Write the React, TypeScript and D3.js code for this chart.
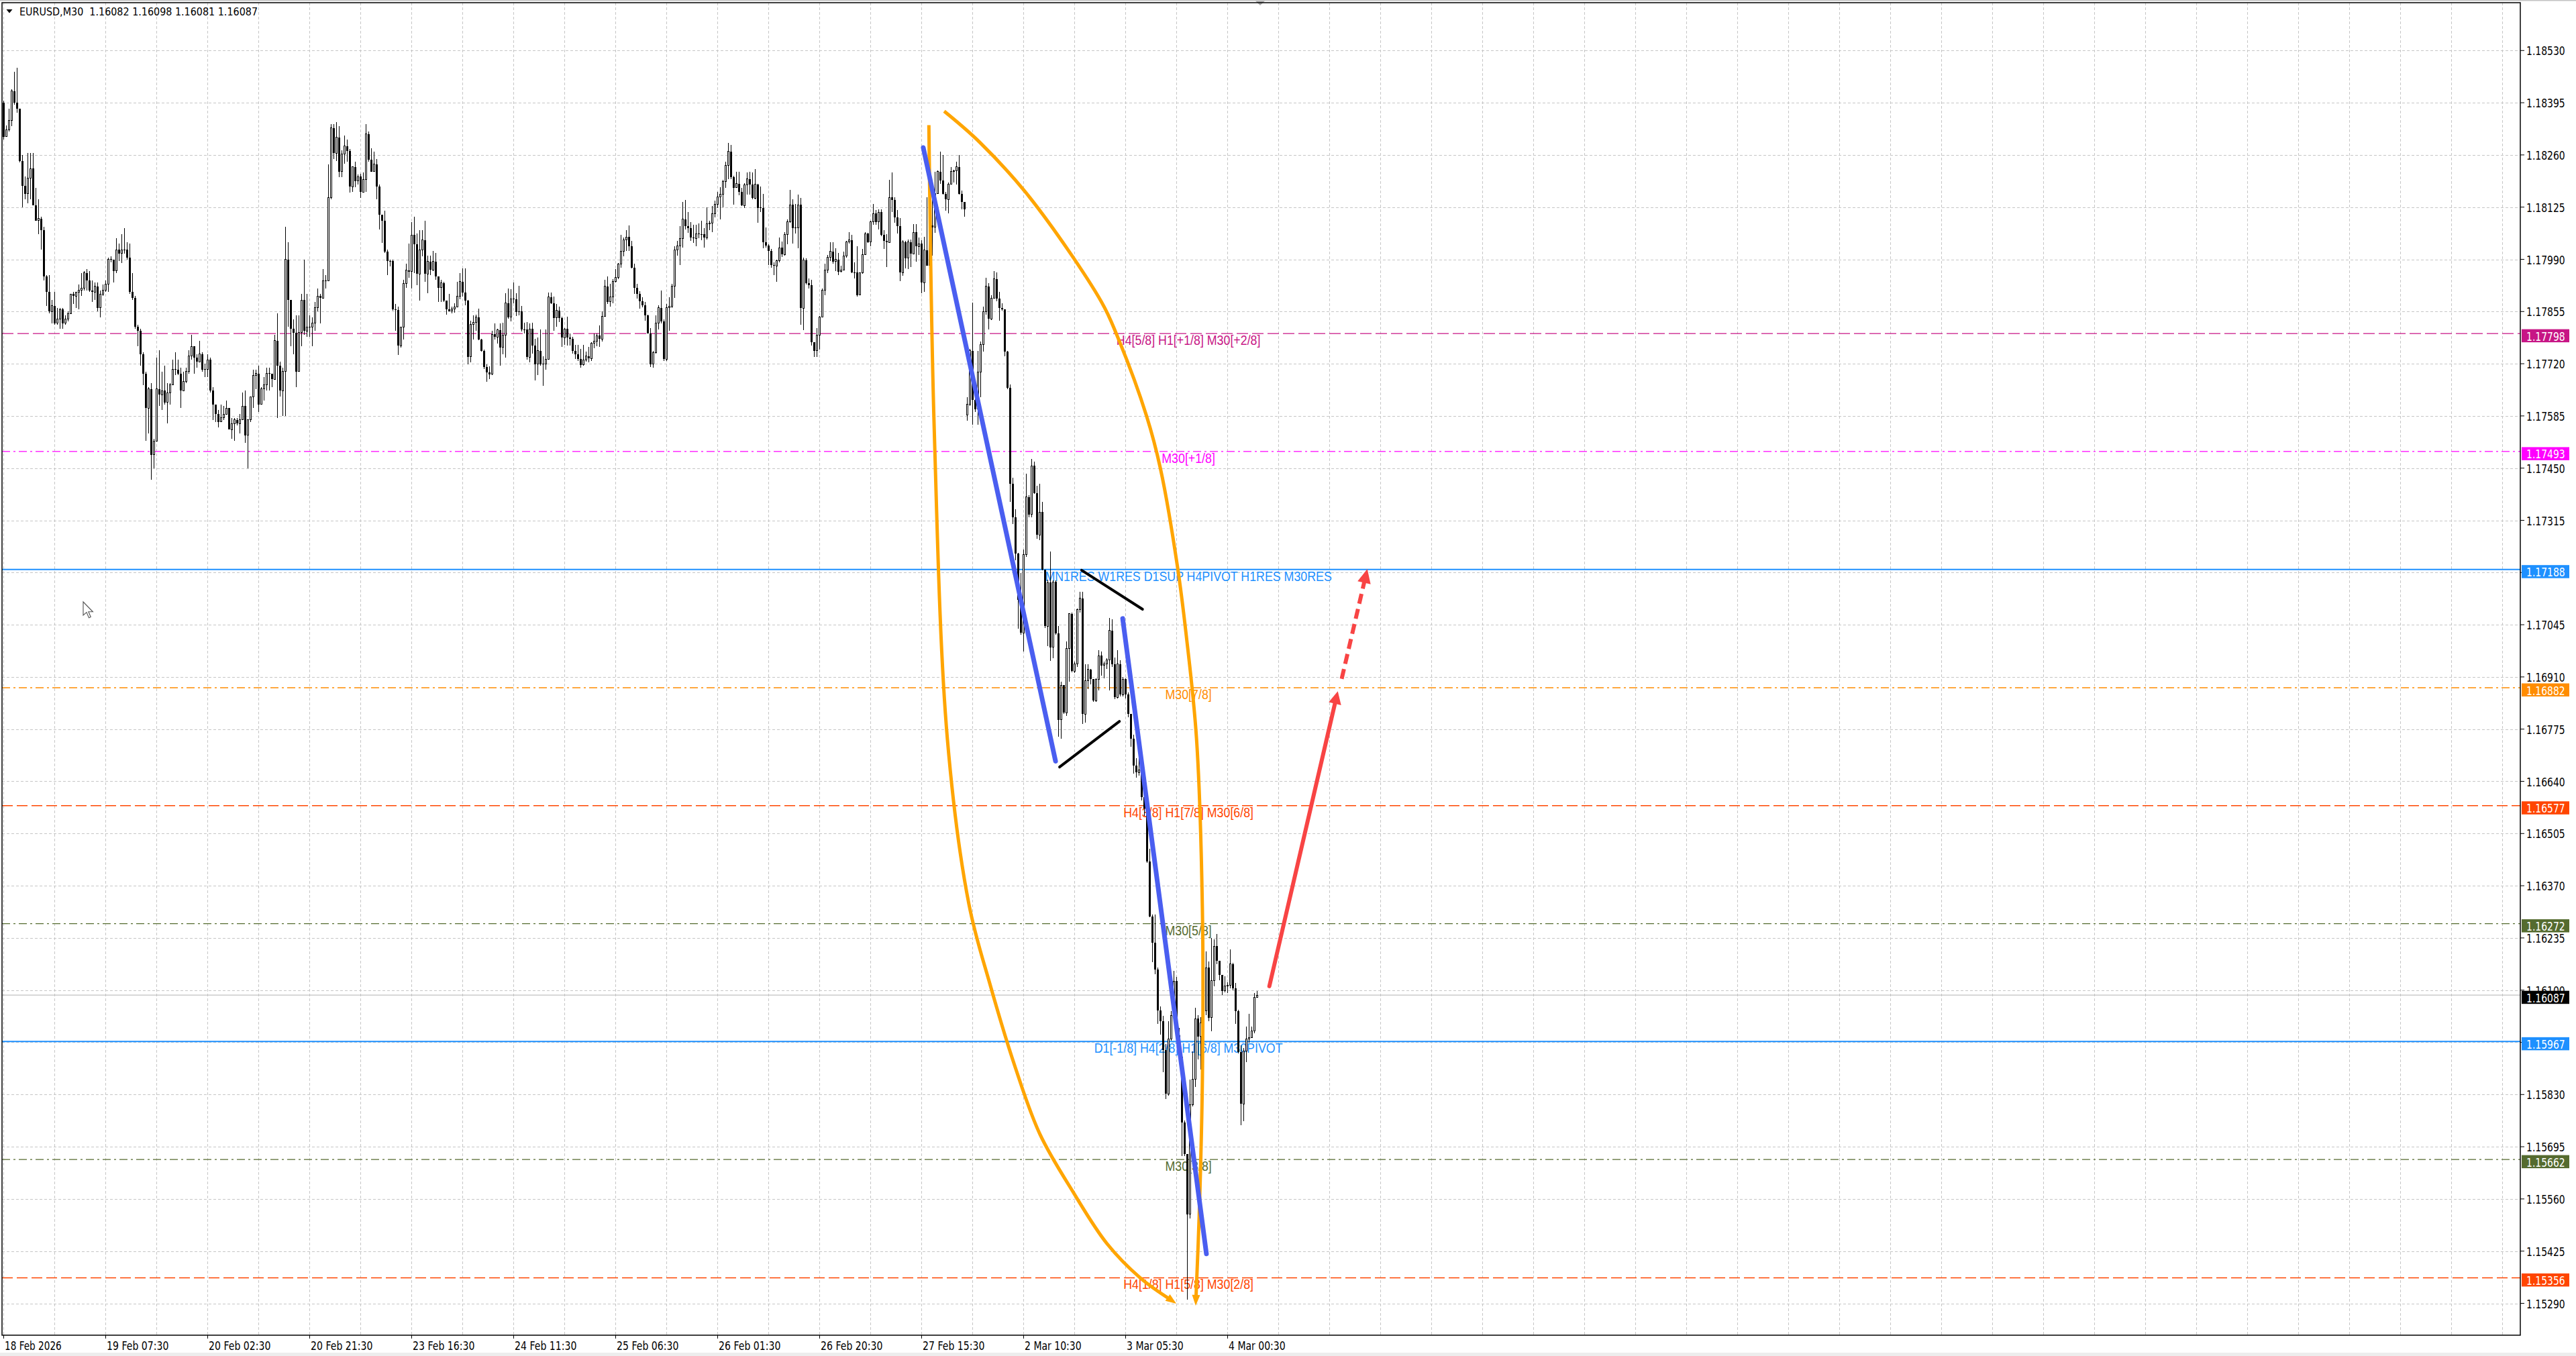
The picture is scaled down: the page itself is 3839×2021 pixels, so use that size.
import { useMemo } from "react"
import * as d3 from "d3"

// One tuple per M30 bar: [close, high, low], in pips above PIP_BASE. Open = previous close.
type Bar = [number, number, number]
type Pt = [number, number] // [bar index, price]

const PIP_BASE = 1.15

const feb18: Bar[] = [
  [330.7, 340, 330], [332.5, 333.6, 330.7], [335, 338, 332], [342.5, 343, 333.5], [339.5, 347.5, 339], [338, 348.5, 337],
  [324.5, 337, 324], [318, 326, 312.5], [316, 320.5, 314.5], [320, 326.5, 313.5], [322.5, 326.5, 314.5], [313, 326.5, 313],
  [309, 317.5, 309], [309.5, 314.5, 305.5], [306.5, 310, 301.5], [294.5, 307.5, 293.5], [290.5, 295, 287], [285.5, 295, 285],
  [287, 288.5, 282.5], [282.5, 290.5, 282], [283.5, 286.5, 282], [286, 286.5, 281], [282.5, 286.5, 281],
]
const feb19: Bar[] = [
  [283.5, 284.5, 282], [285, 285.5, 283], [290, 290, 285], [289.5, 290.5, 287.5], [290.5, 290.5, 286.5], [291, 292.5, 286],
  [291.5, 295.5, 289.5], [295.5, 296, 291], [293.5, 296.5, 291], [291, 296, 290.5], [290.5, 293.5, 288], [292, 293, 288.5],
  [286.5, 293, 285.5], [290, 291, 284], [291, 292.5, 289.5], [292.5, 293.5, 290.5], [299, 299.5, 290.5], [299, 299.8, 298.3],
  [296, 299, 293], [301.5, 304.5, 295.5], [300.5, 303, 298.5], [301.5, 305.5, 298], [301.5, 307, 300.5], [299.5, 303.5, 299],
  [290.5, 303, 290], [289, 295.5, 288.5], [281.5, 289.5, 281], [280.5, 282, 276.5], [274.5, 281, 271.5], [269.5, 275, 266.5],
  [260.5, 270, 252], [265.5, 266, 254], [248.5, 267, 242], [252, 252.5, 245], [265.5, 273.5, 252], [264, 275.5, 261],
  [265, 270, 260], [262, 271.5, 261.5], [264.5, 267, 256.5], [266.5, 267, 261.5], [270.5, 273, 266.5], [270.5, 275, 269],
  [269.5, 273, 269], [265, 271, 260.5], [267.5, 270, 265], [270, 271, 267], [274, 275.5, 269.5], [276.5, 279.5, 273],
]
const feb20: Bar[] = [
  [273.5, 276.5, 269.5], [272.5, 274.5, 271], [274.5, 278, 272.5], [270.5, 275, 270], [270.5, 272, 268.5], [273, 274.5, 268.5],
  [265, 273.5, 264.5], [261.5, 266, 257.5], [259, 261.5, 257], [257, 260, 255.5], [258, 261.5, 257], [259, 261, 257.5],
  [260.5, 262.5, 259], [255, 260.5, 255], [256.5, 258, 252.5], [257.5, 258, 252], [256.5, 258, 256], [257.5, 259, 254],
  [261, 264.5, 257.5], [253.5, 265, 251.5], [257.5, 257.5, 245], [263.5, 263.5, 257], [269, 270.5, 260.5], [269.5, 270.5, 265.5],
  [261.5, 271.5, 259.5], [265.5, 266, 261.5], [266.5, 268.5, 262.5], [269.5, 271, 265], [269.5, 271, 265], [268, 269.5, 266],
  [278, 279.5, 268], [271.5, 285, 258], [265, 272.5, 263.5], [270, 271, 258.5], [299, 307.5, 258.5], [288.5, 303.5, 281.5],
  [281, 288.5, 276.5], [280, 283.5, 274.5], [270, 284.5, 266], [280, 284.5, 270], [288.5, 290, 276.5], [280.5, 299, 279.5],
  [281.5, 290, 279], [281.5, 284.5, 279], [282.5, 284, 276.5], [286.5, 288, 280.5], [289.5, 291.5, 285.5], [289, 290, 282.5],
]
const feb23: Bar[] = [
  [293.5, 296.5, 289], [293.5, 295, 291.5], [315, 323.5, 293.5], [333, 334, 314.5], [326.5, 334, 325], [330.5, 334.5, 324.5],
  [321.7, 333.5, 320.3], [326.3, 327.2, 320.3], [328.3, 331, 323.7], [327, 330, 324.3], [317.8, 327.5, 316.2], [322.9, 323, 316.5],
  [319.3, 324.3, 317.7], [320.4, 320.9, 318.3], [316.4, 321.2, 314.8], [319.6, 321.4, 316.2], [331.4, 334, 316.4], [324.8, 332, 324.3],
  [321.7, 327.8, 321.7], [323.6, 326.9, 321.7], [317.9, 324.9, 314.5], [310.6, 318.3, 306.7], [309, 310.6, 303.3], [301, 311.6, 300.7],
  [298.6, 301.5, 294.9], [298.5, 299, 297.2], [286, 299, 285.8], [285.9, 287.4, 280.5], [276.7, 286.8, 274.2], [281.5, 281.6, 276.1],
  [292.8, 293.7, 278.2], [296.2, 297.8, 291.7], [295.8, 303.1, 294.2], [305.3, 308.7, 291.5], [302.9, 310, 295.5], [295.2, 305.6, 292.3],
  [301.5, 306.6, 288.3], [304, 306.6, 299.8], [295.2, 309, 293.2], [298.4, 300, 290.3], [296.3, 300, 295], [298.4, 301.2, 296],
  [294.6, 300.7, 293.7], [291.7, 294.6, 287.9], [292.9, 293.7, 288], [288.4, 293.2, 288], [286, 287.9, 284.6], [285.6, 290.1, 285.5],
]
const feb24: Bar[] = [
  [286.2, 286.7, 285], [286.7, 287.6, 285.2], [289.4, 293.2, 287.2], [293.2, 295.5, 288.6], [290.4, 296.7, 289.4], [288.4, 296.7, 287.2],
  [273.8, 288.5, 271.8], [282.1, 283.1, 272.4], [282.7, 284.5, 278.2], [284, 284.6, 280.5], [278.2, 286.2, 278.1], [275.4, 278.4, 275.2],
  [271.2, 275.6, 270.7], [269.7, 271.9, 267.4], [269.3, 271.3, 268], [279.6, 280.5, 269], [278.9, 282.4, 278.3], [280.7, 281, 277.2],
  [276.2, 282.4, 271.5], [279.4, 282.6, 274.5], [287.7, 290.3, 273.5], [284, 291.4, 283.6], [288.7, 291.2, 283], [288.7, 293, 287.6],
  [285.4, 290.3, 284.4], [285.5, 292.2, 284.5], [280.8, 286.9, 280.4], [280.8, 282.6, 279.9], [273.7, 282.7, 273], [281, 282.4, 272.4],
  [276.7, 282.6, 274.6], [271.9, 278.4, 267.7], [275.4, 278.7, 269.1], [271.9, 280.8, 271.5], [272, 274, 266.3], [273.1, 280.8, 270.4],
  [289.2, 290.4, 273], [287.7, 290.4, 287.4], [283.9, 289.3, 280.5], [285.8, 287.4, 281.6], [283.9, 286.7, 282.7], [278.7, 284.2, 276.4],
  [281, 281.3, 276.8], [278.7, 284.2, 276.7], [278.5, 279.8, 276.7], [275.4, 278.9, 274.7], [274.4, 276.8, 273.3], [273.3, 276.8, 272.7],
]
const feb25: Bar[] = [
  [271.7, 275.8, 271], [272.9, 276.9, 271.5], [274, 275.2, 272.5], [273.4, 276.4, 272.3], [277.3, 277.5, 272.7], [277.9, 279.8, 276],
  [279.3, 279.8, 276.6], [278.4, 281.9, 276.3], [284.2, 285.5, 277.8], [292, 293.7, 284.1], [288, 294.6, 287.4], [289.2, 292.6, 286.8],
  [293.2, 293.8, 287.7], [294.4, 296.4, 293], [297.7, 298.1, 293.9], [301.1, 305.3, 296.9], [304.1, 304.7, 299.8], [304.8, 306.5, 301.2],
  [302.4, 307.8, 301.2], [296.9, 303.8, 296.6], [291.7, 297.8, 290.1], [290, 292.7, 288.9], [288.2, 290.7, 286.2], [287.1, 289.2, 286.6],
  [284.5, 287.9, 283.1], [279.9, 284.6, 279.8], [271.9, 281.3, 271.2], [274.8, 275.3, 271], [282.5, 284.5, 274.7], [286.5, 287.1, 280.9],
  [282.9, 290.9, 282.5], [273.2, 283.5, 272.7], [286.5, 287.4, 272.7], [286.9, 289.2, 280.5], [292, 292.6, 286.5], [301.4, 302.4, 289.1],
  [302.4, 303.7, 300], [304.4, 307.6, 297.5], [309.4, 313.9, 302.1], [307.6, 314.4, 306.7], [307, 311.2, 305.9], [304.7, 308.6, 303.8],
  [304.4, 307.9, 303.3], [305.6, 307.9, 302.4], [305.6, 308.2, 304.4], [305.5, 309, 304], [304.6, 307, 302.1], [308.2, 312.4, 304.1],
]
const feb26: Bar[] = [
  [308.4, 309, 306.6], [310.8, 312.8, 306], [313.2, 314.2, 309.9], [315.2, 316.5, 312.3], [315.8, 317.7, 309.4], [319.2, 319.6, 312.5],
  [323.3, 324.3, 317.5], [326.9, 329.1, 319.8], [320.3, 328.6, 319.8], [317.5, 320.6, 313.1], [318.6, 321.7, 317.4], [316.4, 321.7, 315.6],
  [312.9, 317.4, 312.8], [318.3, 318.7, 312.3], [319.8, 321.4, 315.8], [318.3, 321.7, 315.8], [314.8, 321.4, 314.6], [318.4, 322.3, 314.5],
  [312.2, 318.6, 308.4], [312.3, 317.9, 311.3], [303.4, 316, 301.9], [302.5, 307.2, 302.1], [301.2, 302.9, 297.5], [297.5, 301.7, 296.8],
  [297.3, 298.3, 295], [298.6, 298.9, 293.2], [302, 304.7, 298.3], [300.3, 303.6, 299.6], [305.5, 306.1, 300], [308.8, 309.4, 302.9],
  [313.1, 316.9, 308.5], [307.1, 314.5, 303], [307.1, 313.4, 305.6], [313.1, 315.7, 301.9], [286.4, 314.9, 282], [298.8, 299.4, 280.7],
  [292.8, 299.2, 292.5], [292.3, 294, 291.4], [277.5, 293.7, 276.7], [275.4, 277.6, 273.7], [279.4, 281.2, 273.7], [284, 284.3, 275.6],
  [291, 291.4, 284], [296.3, 297.8, 289.7], [299.5, 300.2, 295.4], [301, 303.5, 298.6], [298.4, 303.4, 297.8], [299, 301.9, 296],
]
const feb27: Bar[] = [
  [295.8, 300.6, 295], [296.2, 297.4, 295.6], [299.9, 301, 296.2], [303.5, 303.8, 299.4], [304, 306, 303], [295.6, 305.4, 295.5],
  [295.6, 298.3, 294], [289.8, 302.3, 289.3], [295.5, 295.7, 290], [300.3, 301.7, 295.3], [305.6, 306, 300.2], [303.5, 305.9, 303.3],
  [308.7, 309, 302.3], [310.8, 313.3, 307.9], [308.7, 311.7, 307.9], [311.2, 311.9, 306.8], [305.4, 311.9, 305], [303.8, 306.6, 301.7],
  [303.4, 305.5, 297], [315, 319.6, 303.4], [314.4, 321.4, 311.2], [309.9, 315.1, 308.4], [307.6, 311.8, 305.7], [295.6, 309.6, 293.4],
  [303.5, 303.9, 294.7], [299.3, 303.8, 296.6], [303.5, 304.2, 296.5], [300.4, 304.2, 297], [306, 308.1, 300.6], [302.3, 308.1, 298.4],
  [303, 304.6, 300.2], [293, 303.9, 290.2], [301.4, 304.8, 290.6], [297.4, 315.1, 297.3], [307.8, 315, 297], [307.3, 315, 300],
  [316, 321.7, 305.9], [321.7, 322, 316], [319.4, 326.9, 318.5], [316, 326, 315.8], [314.5, 316.5, 311.5], [318.4, 318.8, 310.9],
  [321.7, 322.9, 318.3], [321.9, 322.1, 318.9], [322.9, 324.2, 318.3], [316, 325.9, 315.8], [313.9, 316.7, 311.9], [311.9, 313.9, 310],
]
const mar02: Bar[] = [
  [261.6, 263.4, 257.2], [275.4, 275.8, 261], [262.7, 287.8, 256.2], [260.3, 263.4, 259.6], [269.9, 275.4, 256.2], [276.9, 277.8, 263.4],
  [285.4, 286.7, 275.1], [292, 294.3, 284.7], [283.6, 292.9, 280.9], [289, 289.8, 283.3], [293.9, 296, 288.9], [288.9, 295.7, 288.1],
  [286.5, 290.5, 283.1], [286, 287.6, 285.8], [275.1, 286, 273.9], [265.8, 275.4, 265.5], [241, 266.6, 236.3], [232.3, 242.5, 230.5],
  [222.9, 234.3, 221.2], [210.9, 223.1, 203.4], [202.4, 217.8, 202], [222.6, 224, 197.6], [237.5, 243.5, 222], [233, 238, 232.2],
  [245.6, 247.3, 232.3], [238.5, 246.6, 238.4], [227.7, 240.4, 226.8], [233.6, 241, 226.4], [218.8, 236.3, 218.5], [204.1, 218.8, 203.7],
  [215.4, 216.1, 198.9], [198.7, 223.5, 195.1], [215.6, 216, 195.8], [202.3, 216, 202], [179.9, 204.1, 175.6], [188.9, 189.7, 175],
  [181.7, 188.9, 181.4], [198.3, 200.1, 181], [207.3, 207.5, 189.7], [192.5, 207.7, 192.2], [194.3, 195, 192], [208.4, 208.7, 193.6],
  [211.3, 213.1, 207.7], [181.4, 213.1, 178.8], [190, 194.3, 179.2], [192.9, 194.3, 187.8], [190.4, 193, 189], [184.9, 190.4, 184.6],
]
const mar03: Bar[] = [
  [190.4, 190.7, 184.6], [196.5, 198, 187.5], [194, 197.6, 191.4], [194.3, 195, 190.7], [195.4, 195.8, 193], [203, 206.2, 187.5],
  [194.3, 205.9, 193.6], [185.7, 196.1, 185.3], [194.3, 198, 185.5], [186.4, 195.4, 186], [190.4, 191, 186], [186.4, 190.7, 185.5],
  [181.4, 187, 180.5], [175, 181.5, 173], [168, 176, 166], [166.3, 170, 165], [167, 170, 165.5], [160, 167.5, 159],
  [157, 161, 155], [143.3, 157.5, 143], [129.1, 146.5, 128.8], [122.2, 129.6, 117.2], [115.3, 129.6, 114.1], [104.8, 115.8, 101.3],
  [102, 105.7, 98.5], [94.5, 103.4, 88.7], [83.2, 96, 81.8], [97.4, 102, 82.7], [103.4, 104.5, 97], [112.3, 114.9, 103],
  [98.3, 113.5, 96], [92.8, 100.2, 92], [75.8, 93.7, 67.1], [67.6, 76.3, 67.1], [52, 67.6, 29.9], [80.4, 86.9, 51],
  [86.9, 94.2, 80], [102.6, 105.5, 85], [98, 103.5, 92], [101.5, 103, 89.5], [104.6, 106, 95], [115.8, 120, 103.5],
  [102.9, 117.4, 102], [112.5, 123.4, 99.4], [121.4, 123.2, 111], [117.5, 124.6, 116.8], [113.9, 117.1, 112.5], [109.8, 113.6, 108.7],
]
const mar04: Bar[] = [
  [111, 113.6, 109.5], [111.2, 112, 109.3], [116.8, 120.6, 110.5], [110.4, 117.1, 109.9], [104.6, 111.9, 101.2], [93.9, 104.9, 93.7],
  [80.6, 95.7, 75.1], [94.2, 95.1, 76.1], [97.4, 100.5, 91.3], [97.8, 103.8, 96.5], [99.4, 100.6, 97.7], [108.2, 109.3, 98.9],
  [108.7, 109.8, 108.1],
]

const sessionDays = ["18 Feb", "19 Feb", "20 Feb", "23 Feb", "24 Feb", "25 Feb", "26 Feb", "27 Feb", "2 Mar", "3 Mar", "4 Mar"]
const sessionBars = [feb18, feb19, feb20, feb23, feb24, feb25, feb26, feb27, mar02, mar03, mar04]
const sessionStart = ["12:30", "00:00", "00:00", "00:00", "00:00", "00:00", "00:00", "00:00", "00:00", "00:00", "00:00"]
// explicit opens (first bar of the chart and the Monday gap), in pips
const sessionOpens: (number | null)[] = [339.5, null, null, null, null, null, null, null, 258.7, null, null]

const title = "EURUSD,M30  1.16082 1.16098 1.16081 1.16087"
const priceTicks = [
  "1.18530", "1.18395", "1.18260", "1.18125", "1.17990", "1.17855", "1.17720", "1.17585", "1.17450", "1.17315",
  "1.17180", "1.17045", "1.16910", "1.16775", "1.16640", "1.16505", "1.16370", "1.16235", "1.16100", "1.15965",
  "1.15830", "1.15695", "1.15560", "1.15425", "1.15290",
]
const currentPrice = 1.16087

const levelPrices = [1.17798, 1.17493, 1.17188, 1.16882, 1.16577, 1.16272, 1.15967, 1.15662, 1.15356]
const levelLabels = [
  "H4[5/8] H1[+1/8] M30[+2/8]",
  "M30[+1/8]",
  "MN1RES W1RES D1SUP H4PIVOT H1RES M30RES",
  "M30[7/8]",
  "H4[3/8] H1[7/8] M30[6/8]",
  "M30[5/8]",
  "D1[-1/8] H4[2/8] H1[6/8] M30PIVOT",
  "M30[3/8]",
  "H4[1/8] H1[5/8] M30[2/8]",
]
const levelStyles = [
  { color: "#C71585", dash: "17,6" },
  { color: "#FF00FF", dash: "12,5,3,5" },
  { color: "#1E90FF", dash: "" },
  { color: "#FF8C00", dash: "12,5,3,5" },
  { color: "#FF4500", dash: "16,6" },
  { color: "#556B2F", dash: "12,5,3,5" },
  { color: "#1E90FF", dash: "" },
  { color: "#556B2F", dash: "12,5,3,5" },
  { color: "#FF4500", dash: "16,6" },
]

// hand-drawn objects, as [bar index, price]
const blueTrendA: Pt[] = [[342.6, 1.18279], [391.9, 1.16692]]
const blueTrendB: Pt[] = [[416.9, 1.17061], [448.1, 1.15418]]
const pennantUpper: Pt[] = [[401.6, 1.17186], [424.3, 1.17085]]
const pennantLower: Pt[] = [[393.4, 1.16677], [415.7, 1.16795]]
const orangeRight: Pt[] = [
  [350.4, 1.18373], [363.6, 1.18293], [382.4, 1.18149], [409.0, 1.1788], [414.8, 1.17793], [425.8, 1.17585],
  [431.0, 1.17448], [437.3, 1.17196], [440.6, 1.17017], [444.4, 1.16752], [446.6, 1.16311], [446.6, 1.15869],
  [445.4, 1.15515], [444.1, 1.15284],
]
const orangeLeft: Pt[] = [
  [344.7, 1.18337], [346.7, 1.1755], [351.6, 1.16749], [359.6, 1.16323], [367.6, 1.16112], [376.9, 1.159],
  [386.1, 1.15727], [398.6, 1.15576], [411.1, 1.15444], [423.6, 1.15355], [436.9, 1.15289],
]
const redSolid: Pt[] = [[471.55, 1.1611], [497.05, 1.16873]]
const redDashed: Pt[] = [[498.5, 1.16905], [508.05, 1.17189]]

const WIDTH = 3839
const HEIGHT = 2021
const plot = { left: 3, top: 4, right: 3756, bottom: 1990 }
const BAR_STEP = 4
const FIRST_BAR_X = 5.5
const LEVEL_TEXT_BAR = 441.4
const AXIS_FONT = "'DejaVu Sans', Tahoma, sans-serif"
const TEXT_FONT = "'Liberation Sans', Arial, sans-serif"

function arrowHead(from: [number, number], tip: [number, number], len: number, width: number) {
  const dx = tip[0] - from[0]
  const dy = tip[1] - from[1]
  const d = Math.hypot(dx, dy)
  const ux = dx / d
  const uy = dy / d
  const bx = tip[0] - ux * len
  const by = tip[1] - uy * len
  const nx = -uy
  const ny = ux
  return {
    points: `${tip[0]},${tip[1]} ${bx + (nx * width) / 2},${by + (ny * width) / 2} ${bx - (nx * width) / 2},${by - (ny * width) / 2}`,
    base: [bx + ux * len * 0.35, by + uy * len * 0.35] as [number, number],
  }
}

const pad = (n: number) => String(n).padStart(2, "0")

export default function App() {
  const bars = useMemo(() => {
    const out: { open: number; high: number; low: number; close: number; label: string }[] = []
    let prevClose = 0
    sessionBars.forEach((day, d) => {
      const [hh, mm] = sessionStart[d].split(":").map(Number)
      day.forEach(([c, h, l], j) => {
        const o = j === 0 && sessionOpens[d] != null ? (sessionOpens[d] as number) : prevClose
        const minutes = hh * 60 + mm + j * 30
        out.push({
          open: PIP_BASE + o / 1e4,
          close: PIP_BASE + c / 1e4,
          high: PIP_BASE + Math.max(h, o, c) / 1e4,
          low: PIP_BASE + Math.min(l, o, c) / 1e4,
          label: `${sessionDays[d]} ${pad(Math.floor(minutes / 60))}:${pad(minutes % 60)}`,
        })
        prevClose = c
      })
    })
    return out
  }, [])

  const x = d3
    .scaleLinear()
    .domain([0, bars.length - 1])
    .range([FIRST_BAR_X, FIRST_BAR_X + BAR_STEP * (bars.length - 1)])
  const y = d3.scaleLinear().domain([1.1529, 1.1853]).range([1942.5, 75.3])

  const px = (p: Pt): [number, number] => [x(p[0]), y(p[1])]

  // grid every 19 bars, time labels every 38 bars
  const gridBars = d3.range(0, (plot.right - FIRST_BAR_X) / BAR_STEP, 19)
  const labelBars = d3.range(0, bars.length, 38)

  const curve = d3
    .line<[number, number]>()
    .x((d) => d[0])
    .y((d) => d[1])
    .curve(d3.curveCatmullRom.alpha(0.5))

  const curveWithHead = (pts: Pt[]) => {
    const p = pts.map(px)
    const head = arrowHead(p[p.length - 2], p[p.length - 1], 16, 12)
    const shaft = [...p.slice(0, -1), head.base]
    return { d: curve(shaft) ?? "", head: head.points }
  }
  const orR = curveWithHead(orangeRight)
  const orL = curveWithHead(orangeLeft)

  const straightArrow = (pts: Pt[], len: number, w: number) => {
    const [a, b] = pts.map(px)
    const head = arrowHead(a, b, len, w)
    return { a, b: head.base, head: head.points }
  }
  const redA = straightArrow(redSolid, 19, 19)
  const redB = straightArrow(redDashed, 21, 20)

  const levelX = x(LEVEL_TEXT_BAR)

  return (
    <svg
      width={WIDTH}
      height={HEIGHT}
      viewBox={`0 0 ${WIDTH} ${HEIGHT}`}
      style={{ position: "absolute", left: 0, top: 0, display: "block", background: "#fff" }}
    >
      <defs>
        <clipPath id="plot-clip">
          <rect x={plot.left} y={plot.top} width={plot.right - plot.left} height={plot.bottom - plot.top} />
        </clipPath>
      </defs>

      <rect x={0} y={0} width={WIDTH} height={HEIGHT} fill="#fff" />
      <rect x={0} y={0} width={WIDTH} height={1.5} fill="#c4c4c4" />
      <rect x={0} y={2016} width={WIDTH} height={5} fill="#ededed" />

      <g clipPath="url(#plot-clip)">
        {/* grid */}
        <g stroke="#c6c6c6" strokeWidth={1} strokeDasharray="4,3" shapeRendering="crispEdges">
          {priceTicks.map((t) => (
            <line key={"h" + t} x1={plot.left} x2={plot.right} y1={Math.round(y(+t)) + 0.5} y2={Math.round(y(+t)) + 0.5} />
          ))}
          {gridBars.map((b) => (
            <line key={"v" + b} x1={x(b)} x2={x(b)} y1={plot.top} y2={plot.bottom} />
          ))}
        </g>

        {/* level lines and their labels (background objects) */}
        <line
          x1={plot.left}
          x2={plot.right}
          y1={y(currentPrice)}
          y2={y(currentPrice)}
          stroke="#c0c0c0"
          strokeWidth={1.2}
        />
        {levelPrices.map((p, i) => (
          <line
            key={"lv" + i}
            x1={plot.left}
            x2={plot.right}
            y1={y(p)}
            y2={y(p)}
            stroke={levelStyles[i].color}
            strokeWidth={levelStyles[i].dash ? 1.4 : 2}
            strokeDasharray={levelStyles[i].dash || undefined}
          />
        ))}
        {levelLabels.map((t, i) => (
          <text
            key={"lt" + i}
            transform={`translate(${levelX},${y(levelPrices[i]) + 17}) scale(0.89,1)`}
            textAnchor="middle"
            fontFamily={TEXT_FONT}
            fontSize={20}
            fill={levelStyles[i].color}
          >
            {t}
          </text>
        ))}

        {/* candles */}
        <g shapeRendering="crispEdges">
          {bars.map((b, i) => {
            const cx = x(i)
            const yo = y(b.open)
            const yc = y(b.close)
            const up = b.close > b.open
            const flat = Math.abs(yo - yc) < 0.8
            return (
              <g key={"c" + i}>
                <line x1={cx} x2={cx} y1={y(b.high)} y2={y(b.low)} stroke="#000" strokeWidth={1} />
                {flat ? (
                  <line x1={cx - 1.5} x2={cx + 1.5} y1={yc} y2={yc} stroke="#000" strokeWidth={1} />
                ) : up ? (
                  <rect x={cx - 1} y={yc} width={2} height={yo - yc} fill="#fff" stroke="#000" strokeWidth={1} />
                ) : (
                  <rect x={cx - 1.5} y={yo} width={3} height={yc - yo} fill="#000" />
                )}
              </g>
            )
          })}
        </g>

        {/* drawn objects */}
        <path d={orL.d} fill="none" stroke="#FFA500" strokeWidth={5} />
        <polygon points={orL.head} fill="#FFA500" />
        <path d={orR.d} fill="none" stroke="#FFA500" strokeWidth={5} />
        <polygon points={orR.head} fill="#FFA500" />

        {[pennantUpper, pennantLower].map((seg, i) => {
          const [a, b] = seg.map(px)
          return <line key={"pn" + i} x1={a[0]} y1={a[1]} x2={b[0]} y2={b[1]} stroke="#000" strokeWidth={4} strokeLinecap="round" />
        })}
        {[blueTrendA, blueTrendB].map((seg, i) => {
          const [a, b] = seg.map(px)
          return <line key={"bt" + i} x1={a[0]} y1={a[1]} x2={b[0]} y2={b[1]} stroke="#4A5EF0" strokeWidth={7} strokeLinecap="round" />
        })}

        <line x1={redA.a[0]} y1={redA.a[1]} x2={redA.b[0]} y2={redA.b[1]} stroke="#F84444" strokeWidth={6} strokeLinecap="round" />
        <polygon points={redA.head} fill="#F84444" />
        <line
          x1={redB.a[0]}
          y1={redB.a[1]}
          x2={redB.b[0]}
          y2={redB.b[1]}
          stroke="#F84444"
          strokeWidth={6}
          strokeDasharray="15,8"
        />
        <polygon points={redB.head} fill="#F84444" />

        {/* mouse cursor left on the chart */}
        <path
          transform="translate(124,897) scale(1.25)"
          d="M0,0 L0,16 L4,12.5 L6.8,19 L9,18 L6.3,11.8 L11.5,11.8 Z"
          fill="#fff"
          stroke="#555"
          strokeWidth={0.9}
        />
      </g>

      {/* chart shift marker */}
      <polygon points="1871,1.5 1885,1.5 1878,8" fill="#a8a8a8" />

      {/* frame */}
      <rect
        x={plot.left}
        y={plot.top}
        width={plot.right - plot.left}
        height={plot.bottom - plot.top}
        fill="none"
        stroke="#000"
        strokeWidth={1.5}
      />

      {/* title */}
      <polygon points="9.5,14 18.5,14 14,19.5" fill="#000" />
      <text
        x={29}
        y={22.5}
        fontFamily={AXIS_FONT}
        fontSize={15}
        textLength={355}
        lengthAdjust="spacingAndGlyphs"
        style={{ whiteSpace: "pre" }}
        fill="#000"
      >
        {title}
      </text>

      {/* price axis */}
      {priceTicks.map((t) => (
        <g key={"pt" + t}>
          <line x1={plot.right} x2={plot.right + 6} y1={y(+t)} y2={y(+t)} stroke="#000" strokeWidth={1} />
          <text
            x={3765}
            y={y(+t) + 7}
            fontFamily={AXIS_FONT}
            fontSize={18}
            textLength={57.7}
            lengthAdjust="spacingAndGlyphs"
            fill="#000"
          >
            {t}
          </text>
        </g>
      ))}
      {[...levelPrices.map((p, i) => ({ p, c: levelStyles[i].color })), { p: currentPrice, c: "#000" }].map((d, i) => (
        <g key={"box" + i}>
          <rect x={3758} y={y(d.p) - 6.5} width={71} height={19.5} fill={d.c} />
          <text
            x={3765}
            y={y(d.p) + 10.5}
            fontFamily={AXIS_FONT}
            fontSize={18}
            textLength={57.7}
            lengthAdjust="spacingAndGlyphs"
            fill="#fff"
          >
            {d.p.toFixed(5)}
          </text>
        </g>
      ))}

      {/* time axis */}
      {labelBars.map((b, k) => {
        const label = k === 0 ? "18 Feb 2026" : bars[b].label
        return (
          <g key={"tl" + b}>
            <line x1={x(b)} x2={x(b)} y1={plot.bottom} y2={plot.bottom + 5} stroke="#000" strokeWidth={1} />
            <text
              x={x(b) + 1.5}
              y={2011.5}
              fontFamily={AXIS_FONT}
              fontSize={17}
              textLength={label.length * 7.7}
              lengthAdjust="spacingAndGlyphs"
              fill="#000"
            >
              {label}
            </text>
          </g>
        )
      })}
    </svg>
  )
}
